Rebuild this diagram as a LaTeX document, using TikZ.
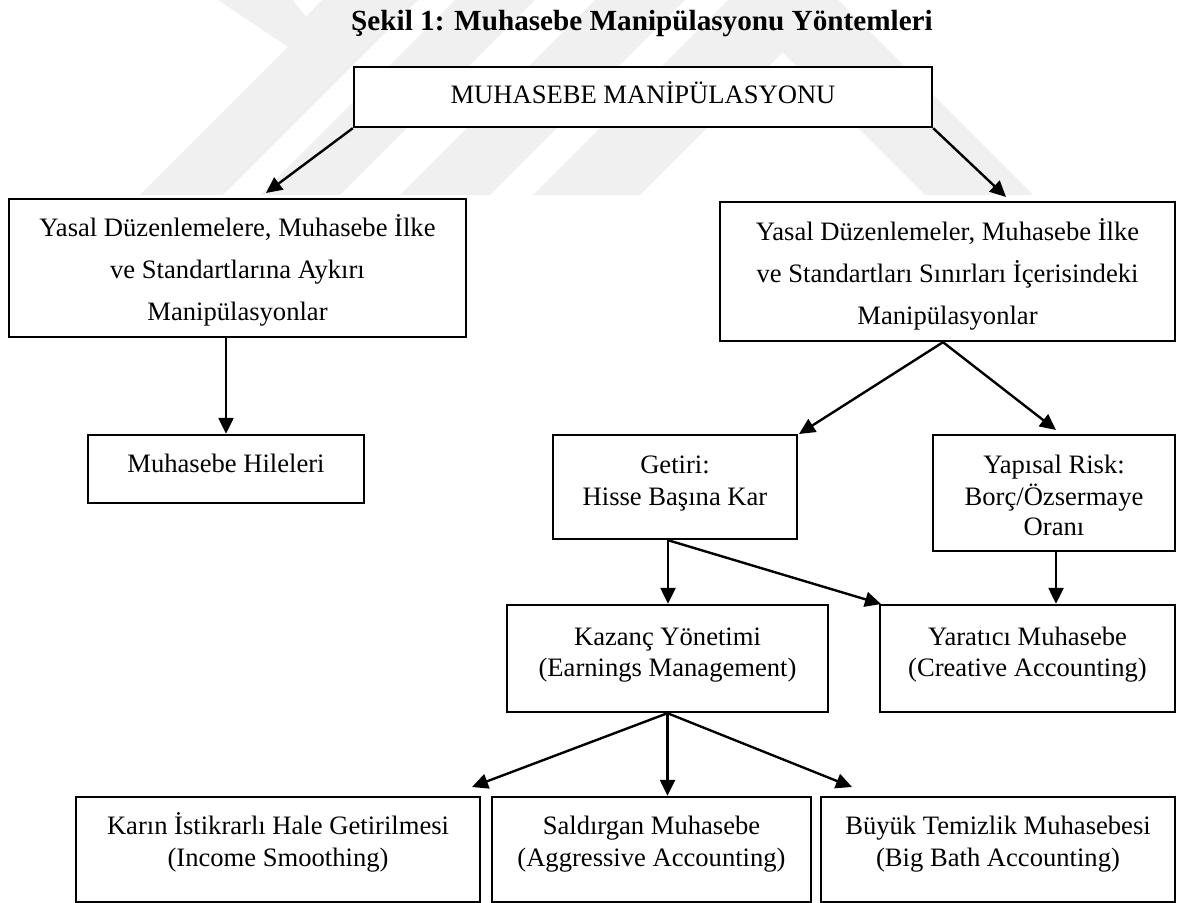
\documentclass[tikz,border=0pt]{standalone}
\usepackage{fontspec}
\setmainfont{Liberation Serif}
\usetikzlibrary{arrows.meta,fit,calc}
\begin{document}
\begin{tikzpicture}[x=0.5pt,y=-0.5pt,
  box/.style={draw, line width=1.2pt, fill=white, inner sep=0pt},
  txt/.style={anchor=base, inner sep=0pt, font=\fontsize{13.3}{16}\selectfont},
  ttl/.style={anchor=base, inner sep=0pt, font=\fontsize{14.6}{17}\selectfont\bfseries},
  arr/.style={line width=1.2pt, -{Triangle[length=8pt,width=7.5pt]}},
  wm/.style={fill=black!6, draw=none}]
\useasboundingbox (0,0) rectangle (1177,903);
% watermark
\fill[wm] (140,195) -- (223,195) -- (418,0) -- (322,0) -- (306,17) -- (293,0) -- (218,0) -- (288,47) -- cycle;
\fill[wm] (260,195) -- (340,195) -- (535,0) -- (455,0) -- cycle;
\fill[wm] (400,195) -- (490,195) -- (685,0) -- (595,0) -- cycle;
\fill[wm] (533,195) -- (640,195) -- (835,0) -- (728,0) -- cycle;
\fill[wm] (925,195) -- (1033,195) -- (838,0) -- (730,0) -- cycle;
% title
\node[ttl] (title) at (642,31) {Şekil 1: Muhasebe Manipülasyonu Yöntemleri};
% boxes
\node[box, fit={(354,67) (932,127)}] (T) {};
\node[box, fit={(9,199) (466,337)}] (L) {};
\node[box, fit={(720,202) (1175,341)}] (R) {};
\node[box, fit={(88,435) (364,503)}] (H) {};
\node[box, fit={(553,435) (797,539)}] (G) {};
\node[box, fit={(933,435) (1175,551)}] (Y) {};
\node[box, fit={(507,605) (828,712)}] (K) {};
\node[box, fit={(880,605) (1175,712)}] (C) {};
\node[box, fit={(76,797) (480,902)}] (B1) {};
\node[box, fit={(492,797) (811,902)}] (B2) {};
\node[box, fit={(821,797) (1175,902)}] (B3) {};
% texts
\node[txt] (Tt) at (643,104) {MUHASEBE MANİPÜLASYONU};
\node[txt] (L1) at (237.5,237) {Yasal Düzenlemelere, Muhasebe İlke};
\node[txt] (L2) at (237.5,279) {ve Standartlarına Aykırı};
\node[txt] (L3) at (237.5,321) {Manipülasyonlar};
\node[txt] (R1) at (947.5,241) {Yasal Düzenlemeler, Muhasebe İlke};
\node[txt] (R2) at (947.5,283) {ve Standartları Sınırları İçerisindeki};
\node[txt] (R3) at (947.5,325) {Manipülasyonlar};
\node[txt] (H1) at (226,472) {Muhasebe Hileleri};
\node[txt] (G1) at (675,473) {Getiri:};
\node[txt] (G2) at (675,505) {Hisse Başına Kar};
\node[txt] (Y1) at (1054,473) {Yapısal Risk:};
\node[txt] (Y2) at (1054,505) {Borç/Özsermaye};
\node[txt] (Y3) at (1054,535) {Oranı};
\node[txt] (K1) at (667.5,645) {Kazanç Yönetimi};
\node[txt] (K2) at (667.5,676) {(Earnings Management)};
\node[txt] (C1) at (1027.5,645) {Yaratıcı Muhasebe};
\node[txt] (C2) at (1027.5,676) {(Creative Accounting)};
\node[txt] (B1a) at (278,834) {Karın İstikrarlı Hale Getirilmesi};
\node[txt] (B1b) at (278,866) {(Income Smoothing)};
\node[txt] (B2a) at (651.5,834) {Saldırgan Muhasebe};
\node[txt] (B2b) at (651.5,866) {(Aggressive Accounting)};
\node[txt] (B3a) at (998,834) {Büyük Temizlik Muhasebesi};
\node[txt] (B3b) at (998,866) {(Big Bath Accounting)};
% arrow free ends
\coordinate (tL) at (266,193);
\coordinate (tR) at (1006,197);
\coordinate (sR) at (943,341);
\coordinate (tG) at (799,434);
\coordinate (tY) at (1056,430);
\coordinate (sG) at (668,539);
\coordinate (tC) at (881,604);
\coordinate (tB1) at (472,787);
\coordinate (tB3) at (852,787);
% arrows
\draw[arr] (T.south west) -- (tL);
\draw[arr] (T.south east) -- (tR);
\draw[arr] (L.south -| H.north) -- (H.north);
\draw[arr] (R.south -| sR) -- (tG);
\draw[arr] (R.south -| sR) -- (tY);
\draw[arr] (G.south -| sG) -- (K.north -| sG);
\draw[arr] (G.south -| sG) -- (tC);
\draw[arr] (Y.south -| tY) -- (C.north -| tY);
\draw[arr] (K.south) -- (tB1);
\draw[arr] (K.south) -- (K.south |- B2.north);
\draw[arr] (K.south) -- (tB3);
\end{tikzpicture}
\end{document}
